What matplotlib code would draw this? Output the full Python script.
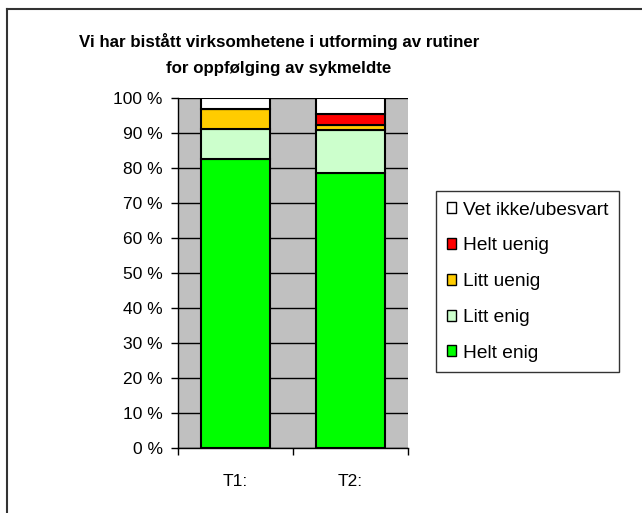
import matplotlib
matplotlib.use("Agg")
import matplotlib.pyplot as plt
from matplotlib.lines import Line2D
import numpy as np

plt.rcParams['font.family'] = ['Liberation Sans', 'DejaVu Sans']

# data (percent of answers)
categories = ['T1:', 'T2:']
series_names = ['Helt enig', 'Litt enig', 'Litt uenig', 'Helt uenig', 'Vet ikke/ubesvart']
helt_enig = [82.5, 78.5]
litt_enig = [8.6, 12.3]
litt_uenig = [5.6, 1.4]
helt_uenig = [0.0, 3.1]
vet_ikke = [3.3, 4.7]
colors = ['#00FF00', '#CCFFCC', '#FFCC00', '#FF0000', '#FFFFFF']
yticks = np.arange(0, 101, 10)

W, H = 642, 513
fig = plt.figure(figsize=(W / 100, H / 100), dpi=100)
ax = fig.add_axes([178 / W, 1 - 448 / H, (408 - 178) / W, (448 - 97.7) / H])
ax.set_facecolor('#C0C0C0')

x = np.arange(len(categories)) + 0.5
bottom = np.zeros(len(categories))
bars = []
for name, vals, c in zip(series_names,
                         [helt_enig, litt_enig, litt_uenig, helt_uenig, vet_ikke],
                         colors):
    vals = np.array(vals)
    b = ax.bar(x, vals, 0.6, bottom=bottom, color=c, edgecolor='black',
               linewidth=1.5, label=name, zorder=3)
    bars.append(b)
    bottom += vals

ax.set_xlim(0, 2)
ax.set_ylim(0, 100)
ax.set_yticks(yticks)
ax.set_yticklabels([f'{v} %' for v in yticks], fontsize=12.5)
ax.yaxis.grid(True, color='black', linewidth=1, zorder=1)
ax.set_axisbelow(True)

ax.set_xticks([0, 1, 2])
ax.set_xticklabels([])
ax.set_xticks(x, minor=True)
ax.set_xticklabels(categories, minor=True, fontsize=12.5)
ax.tick_params(axis='x', which='major', direction='out', length=5, width=1)
ax.tick_params(axis='x', which='minor', length=0, pad=19)
ax.tick_params(axis='y', direction='out', length=5, width=1, pad=6)

for s in ['top', 'right']:
    ax.spines[s].set_visible(False)
ax.spines['left'].set_linewidth(1)
ax.spines['bottom'].set_linewidth(1)
ax.spines['bottom'].set_zorder(4)

fig.text(279 / W, 1 - 42 / H, 'Vi har bistått virksomhetene i utforming av rutiner',
         ha='center', va='center', fontsize=12.2, fontweight='bold')
fig.text(279 / W, 1 - 68 / H, 'for oppfølging av sykmeldte',
         ha='center', va='center', fontsize=12.2, fontweight='bold')

handles = bars[::-1]
labels = series_names[::-1]
leg = fig.legend(handles, labels, loc='upper left',
                 bbox_to_anchor=(436 / W, 1 - 191 / H), bbox_transform=fig.transFigure,
                 fontsize=13.8, frameon=True, fancybox=False, handlelength=0.5,
                 handleheight=0.5, handletextpad=0.35, labelspacing=0.98,
                 borderpad=0.55, borderaxespad=0)
leg.get_frame().set_edgecolor('black')
leg.get_frame().set_linewidth(1)
for h in leg.legend_handles:
    h.set_linewidth(1)

# outer chart border (only top and left visible in the crop)
fig.add_artist(Line2D([6.5 / W, 6.5 / W], [0, 1 - 8.5 / H], transform=fig.transFigure,
                      color='#333333', linewidth=1.5))
fig.add_artist(Line2D([6.5 / W, 1], [1 - 8.5 / H, 1 - 8.5 / H], transform=fig.transFigure,
                      color='#333333', linewidth=1.5))

fig.savefig('out.png', dpi=100)
